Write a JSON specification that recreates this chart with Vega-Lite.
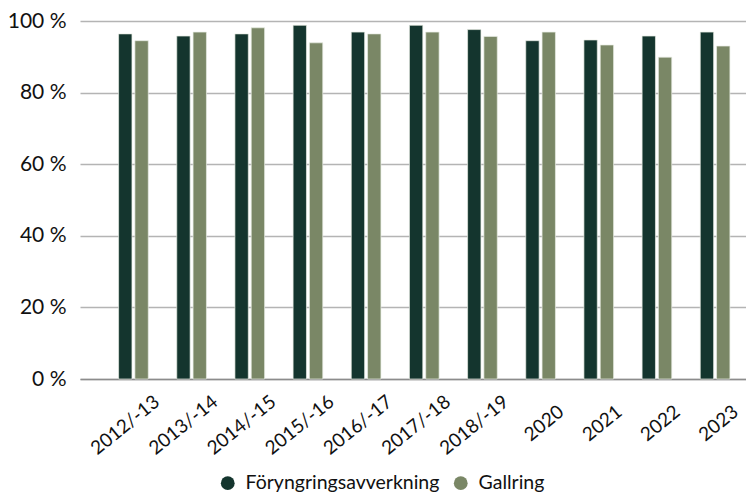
{
  "$schema": "https://vega.github.io/schema/vega-lite/v6.json",
  "autosize": "none",
  "width": 666,
  "height": 358,
  "padding": {"left": 80, "top": 21, "right": 0, "bottom": 116},
  "background": "white",
  "data": {
    "values": [
      {"period": "2012/-13", "typ": "Föryngringsavverkning", "andel": 96.4},
      {"period": "2012/-13", "typ": "Gallring", "andel": 94.5},
      {"period": "2013/-14", "typ": "Föryngringsavverkning", "andel": 95.8},
      {"period": "2013/-14", "typ": "Gallring", "andel": 96.9},
      {"period": "2014/-15", "typ": "Föryngringsavverkning", "andel": 96.4},
      {"period": "2014/-15", "typ": "Gallring", "andel": 98.1},
      {"period": "2015/-16", "typ": "Föryngringsavverkning", "andel": 98.8},
      {"period": "2015/-16", "typ": "Gallring", "andel": 93.9},
      {"period": "2016/-17", "typ": "Föryngringsavverkning", "andel": 96.9},
      {"period": "2016/-17", "typ": "Gallring", "andel": 96.4},
      {"period": "2017/-18", "typ": "Föryngringsavverkning", "andel": 98.8},
      {"period": "2017/-18", "typ": "Gallring", "andel": 96.9},
      {"period": "2018/-19", "typ": "Föryngringsavverkning", "andel": 97.6},
      {"period": "2018/-19", "typ": "Gallring", "andel": 95.7},
      {"period": "2020", "typ": "Föryngringsavverkning", "andel": 94.5},
      {"period": "2020", "typ": "Gallring", "andel": 96.9},
      {"period": "2021", "typ": "Föryngringsavverkning", "andel": 94.7},
      {"period": "2021", "typ": "Gallring", "andel": 93.3},
      {"period": "2022", "typ": "Föryngringsavverkning", "andel": 95.8},
      {"period": "2022", "typ": "Gallring", "andel": 89.9},
      {"period": "2023", "typ": "Föryngringsavverkning", "andel": 96.9},
      {"period": "2023", "typ": "Gallring", "andel": 93.0}
    ]
  },
  "mark": {"type": "bar", "stroke": "#e8ece4", "strokeWidth": 0.7},
  "encoding": {
    "x": {
      "field": "period",
      "type": "nominal",
      "sort": null,
      "scale": {"paddingInner": 0.49, "paddingOuter": 0.47, "align": 0.706},
      "axis": {
        "title": null,
        "labelAngle": -39,
        "labelAlign": "right",
        "labelBaseline": "top",
        "labelFontSize": 19,
        "labelFont": "Lato",
        "labelColor": "#111111",
        "ticks": false,
        "domain": true,
        "domainColor": "#8c8c8c",
        "domainWidth": 1.5,
        "labelOffset": {"condition": {"test": "length(datum.label) > 5", "value": 18}, "value": 15},
        "labelPadding": {"condition": {"test": "length(datum.label) > 5", "value": 13}, "value": 23}
      }
    },
    "xOffset": {
      "field": "typ",
      "type": "nominal",
      "scale": {"paddingInner": 0.18}
    },
    "y": {
      "field": "andel",
      "type": "quantitative",
      "scale": {"domain": [0, 100]},
      "axis": {
        "title": null,
        "values": [0, 20, 40, 60, 80, 100],
        "labelExpr": "datum.value + ' %'",
        "labelFontSize": 21,
        "labelFont": "Lato",
        "labelColor": "#111111",
        "labelPadding": 14,
        "ticks": false,
        "domain": false,
        "grid": true,
        "gridColor": "#b4b4b4",
        "gridWidth": 1.3
      }
    },
    "color": {
      "field": "typ",
      "type": "nominal",
      "scale": {"domain": ["Föryngringsavverkning", "Gallring"], "range": ["#14352e", "#7a8766"]},
      "legend": {
        "title": null,
        "orient": "none",
        "direction": "horizontal",
        "legendX": 138,
        "legendY": 452,
        "symbolType": "circle",
        "symbolSize": 190,
        "symbolStrokeWidth": 0,
        "labelFontSize": 19.5,
        "labelFont": "Lato",
        "labelColor": "#111111",
        "labelLimit": 0,
        "columnPadding": 11,
        "labelOffset": 8
      }
    }
  },
  "config": {"view": {"stroke": null}}
}
